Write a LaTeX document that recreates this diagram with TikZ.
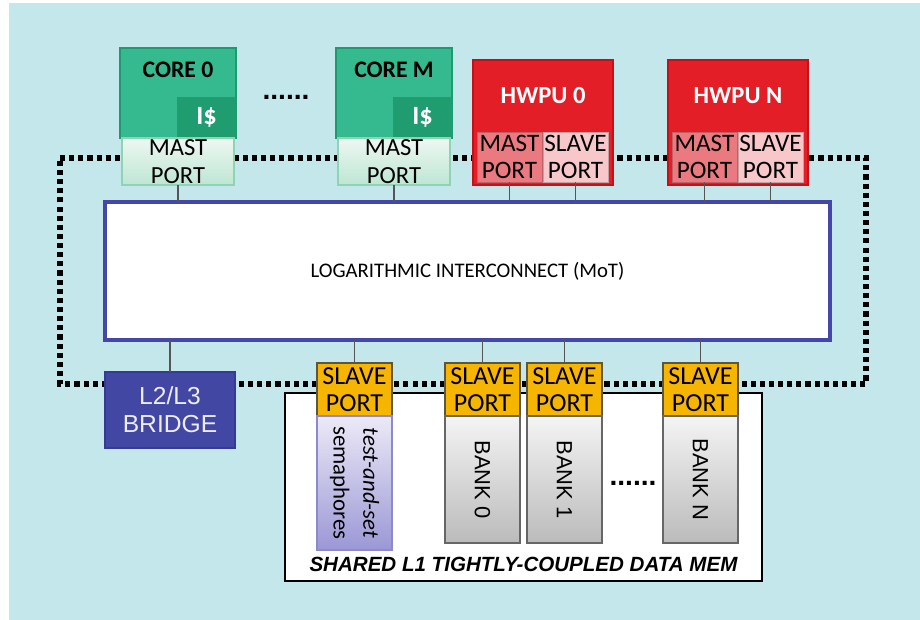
\documentclass[tikz,border=0pt]{standalone}
\usepackage{fontspec}
\setmainfont{Carlito}
\newfontfamily\arialfont{Liberation Sans}
\usetikzlibrary{calc}

\definecolor{bgcyan}{HTML}{C4E7EB}
\definecolor{coregreen}{HTML}{35B98E}
\definecolor{coreedge}{HTML}{1E9A6E}
\definecolor{cachegreen}{HTML}{1F9C70}
\definecolor{mgreentop}{HTML}{EEF7F2}
\definecolor{mgreenbot}{HTML}{BDE6D3}
\definecolor{mgreenedge}{HTML}{8FD3B5}
\definecolor{hwred}{HTML}{E41E26}
\definecolor{hwedge}{HTML}{C41016}
\definecolor{mastpink}{HTML}{EB7A80}
\definecolor{slavepink}{HTML}{F7C7C9}
\definecolor{icblue}{HTML}{4446A8}
\definecolor{bridgeblue}{HTML}{4247A4}
\definecolor{bridgeedge}{HTML}{343A96}
\definecolor{portyellow}{HTML}{F6B500}
\definecolor{portyedge}{HTML}{5E5540}
\definecolor{semtop}{HTML}{ECEAF7}
\definecolor{sembot}{HTML}{9B97D5}
\definecolor{semedge}{HTML}{8D89CC}
\definecolor{banktop}{HTML}{F4F4F4}
\definecolor{bankbot}{HTML}{BBBBBB}
\definecolor{bankedge}{HTML}{666666}
\definecolor{wirecol}{HTML}{555555}

\tikzstyle{box}=[rectangle,inner sep=0pt,outer sep=0pt,anchor=north west,align=center]
\tikzstyle{core}=[box,fill=coregreen,draw=coreedge,line width=0.8pt,minimum width=23.2mm,minimum height=18mm]
\tikzstyle{cache}=[box,fill=cachegreen,text=white,font=\fontsize{15}{16}\selectfont\bfseries,minimum width=11.8mm,minimum height=8.2mm]
\tikzstyle{mastport}=[box,top color=mgreentop,bottom color=mgreenbot,draw=mgreenedge,line width=0.6pt,font=\fontsize{14}{15.5}\selectfont,minimum width=22.4mm,minimum height=9.4mm]
\tikzstyle{hwpu}=[box,fill=hwred,draw=hwedge,line width=0.8pt,minimum width=28mm,minimum height=25mm]
\tikzstyle{hwmast}=[box,fill=mastpink,draw=mastpink!80!black,line width=0.4pt,font=\fontsize{14.3}{15.5}\selectfont,minimum width=13mm,minimum height=10mm]
\tikzstyle{hwslave}=[hwmast,fill=slavepink,draw=slavepink!80!black]
\tikzstyle{slaveport}=[box,fill=portyellow,draw=portyedge,line width=0.8pt,font=\fontsize{14.8}{15.5}\selectfont,minimum width=15mm,minimum height=10.6mm]
\tikzstyle{bank}=[box,top color=banktop,bottom color=bankbot,draw=bankedge,line width=0.9pt,font=\arialfont\fontsize{12.5}{15}\selectfont,minimum width=15mm,minimum height=25.4mm]
\tikzstyle{wire}=[line width=0.9pt,draw=wirecol]
\tikzstyle{ring}=[line width=2.9pt,dash pattern=on 2.9pt off 2.3pt,draw=black]
\tikzstyle{dots}=[inner sep=0pt,font=\arialfont\fontsize{16}{16}\selectfont\bfseries]

\begin{document}
\begin{tikzpicture}[x=0.2mm,y=-0.2mm]
	\useasboundingbox (0,0) rectangle (920,620);
	\fill[bgcyan] (9,3) rectangle (920,620);

	% the dotted ring round the cluster
	\coordinate (lnw) at (60,158);
	\coordinate (lne) at (866,158);
	\coordinate (lse) at (866,384);
	\coordinate (lsw) at (60,384);
	\draw[ring] (lnw)--(lne)--(lse)--(lsw)--cycle;

	% cores
	\node[core] (core0) at (120,48) {};
	\node[font=\fontsize{13.5}{15}\selectfont\bfseries] at ($(core0.north)+(0,22)$) {CORE 0};
	\node[cache,anchor=south east] (cache0) at (core0.south east) {I\$};
	\node[mastport,anchor=north] (mast0) at (core0.south) {MAST\\PORT};

	\node[dots] at (286,97) {......};

	\node[core] (coreM) at (336,48) {};
	\node[font=\fontsize{13.5}{15}\selectfont\bfseries] at ($(coreM.north)+(0,22)$) {CORE M};
	\node[cache,anchor=south east] (cacheM) at (coreM.south east) {I\$};
	\node[mastport,anchor=north] (mastM) at (coreM.south) {MAST\\PORT};

	% hardware processing units
	\node[hwpu] (hwpu0) at (473,60) {};
	\node[text=white,font=\fontsize{14}{15}\selectfont\bfseries] at ($(hwpu0.north)+(0,36)$) {HWPU 0};
	\node[hwmast,anchor=south west] (hmast0) at ($(hwpu0.south west)+(4,-3)$) {MAST\\PORT};
	\node[hwslave,anchor=south east] (hslave0) at ($(hwpu0.south east)+(-5,-3)$) {SLAVE\\PORT};

	\node[hwpu] (hwpuN) at (668,60) {};
	\node[text=white,font=\fontsize{14}{15}\selectfont\bfseries] at ($(hwpuN.north)+(0,36)$) {HWPU N};
	\node[hwmast,anchor=south west] (hmastN) at ($(hwpuN.south west)+(4,-3)$) {MAST\\PORT};
	\node[hwslave,anchor=south east] (hslaveN) at ($(hwpuN.south east)+(-5,-3)$) {SLAVE\\PORT};

	% interconnect
	\node[box,fill=white,draw=icblue,line width=2.8pt,minimum width=145mm,minimum height=27.6mm,font=\fontsize{11.8}{14}\selectfont] (ic) at (105,202) {LOGARITHMIC INTERCONNECT (MoT)};

	\draw[wire] (mast0.south) -- (mast0.south |- ic.north);
	\draw[wire] (mastM.south) -- (mastM.south |- ic.north);
	\draw[wire] (hmast0.south) -- (hmast0.south |- ic.north);
	\draw[wire] (hslave0.south) -- (hslave0.south |- ic.north);
	\draw[wire] (hmastN.south) -- (hmastN.south |- ic.north);
	\draw[wire] (hslaveN.south) -- (hslaveN.south |- ic.north);

	% bridge to L2/L3
	\node[box,fill=bridgeblue,draw=bridgeedge,line width=0.8pt,text=white!90!bridgeblue,font=\arialfont\fontsize{14}{16}\selectfont,minimum width=26mm,minimum height=15.2mm] (bridge) at (105,372) {L2/L3\\BRIDGE};
	\draw[wire] (bridge.north) -- (bridge.north |- ic.south);

	% shared L1 memory
	\node[box,fill=white,draw=black,line width=1.5pt,minimum width=95.4mm,minimum height=37.6mm] (mem) at (285,393) {};
	\node[font=\arialfont\fontsize{11.7}{14}\selectfont\bfseries\itshape] at ($(mem.south)+(0,-17)$) {SHARED L1 TIGHTLY-COUPLED DATA MEM};

	\node[slaveport] (sport0) at (317,363) {SLAVE\\PORT};
	\node[slaveport] (sport1) at (445,363) {SLAVE\\PORT};
	\node[slaveport] (sport2) at (527,363) {SLAVE\\PORT};
	\node[slaveport] (sport3) at (663,363) {SLAVE\\PORT};

	\node[box,anchor=north,top color=semtop,bottom color=sembot,draw=semedge,line width=0.8pt,minimum width=15mm,minimum height=26.8mm] (sem) at (sport0.south)
		{\rotatebox{-90}{\fontsize{13}{17}\selectfont\begin{tabular}{@{}c@{}}\textit{test-and-set}\\semaphores\end{tabular}}};
	\node[bank,anchor=north] (bank0) at (sport1.south) {\rotatebox{-90}{BANK 0}};
	\node[bank,anchor=north] (bank1) at (sport2.south) {\rotatebox{-90}{BANK 1}};
	\node[dots] at (633,483) {......};
	\node[bank,anchor=north] (bankN) at (sport3.south) {\rotatebox{-90}{BANK N}};

	\draw[wire] (sport0.north) -- (sport0.north |- ic.south);
	\draw[wire] (sport1.north) -- (sport1.north |- ic.south);
	\draw[wire] (sport2.north) -- (sport2.north |- ic.south);
	\draw[wire] (sport3.north) -- (sport3.north |- ic.south);
\end{tikzpicture}
\end{document}
